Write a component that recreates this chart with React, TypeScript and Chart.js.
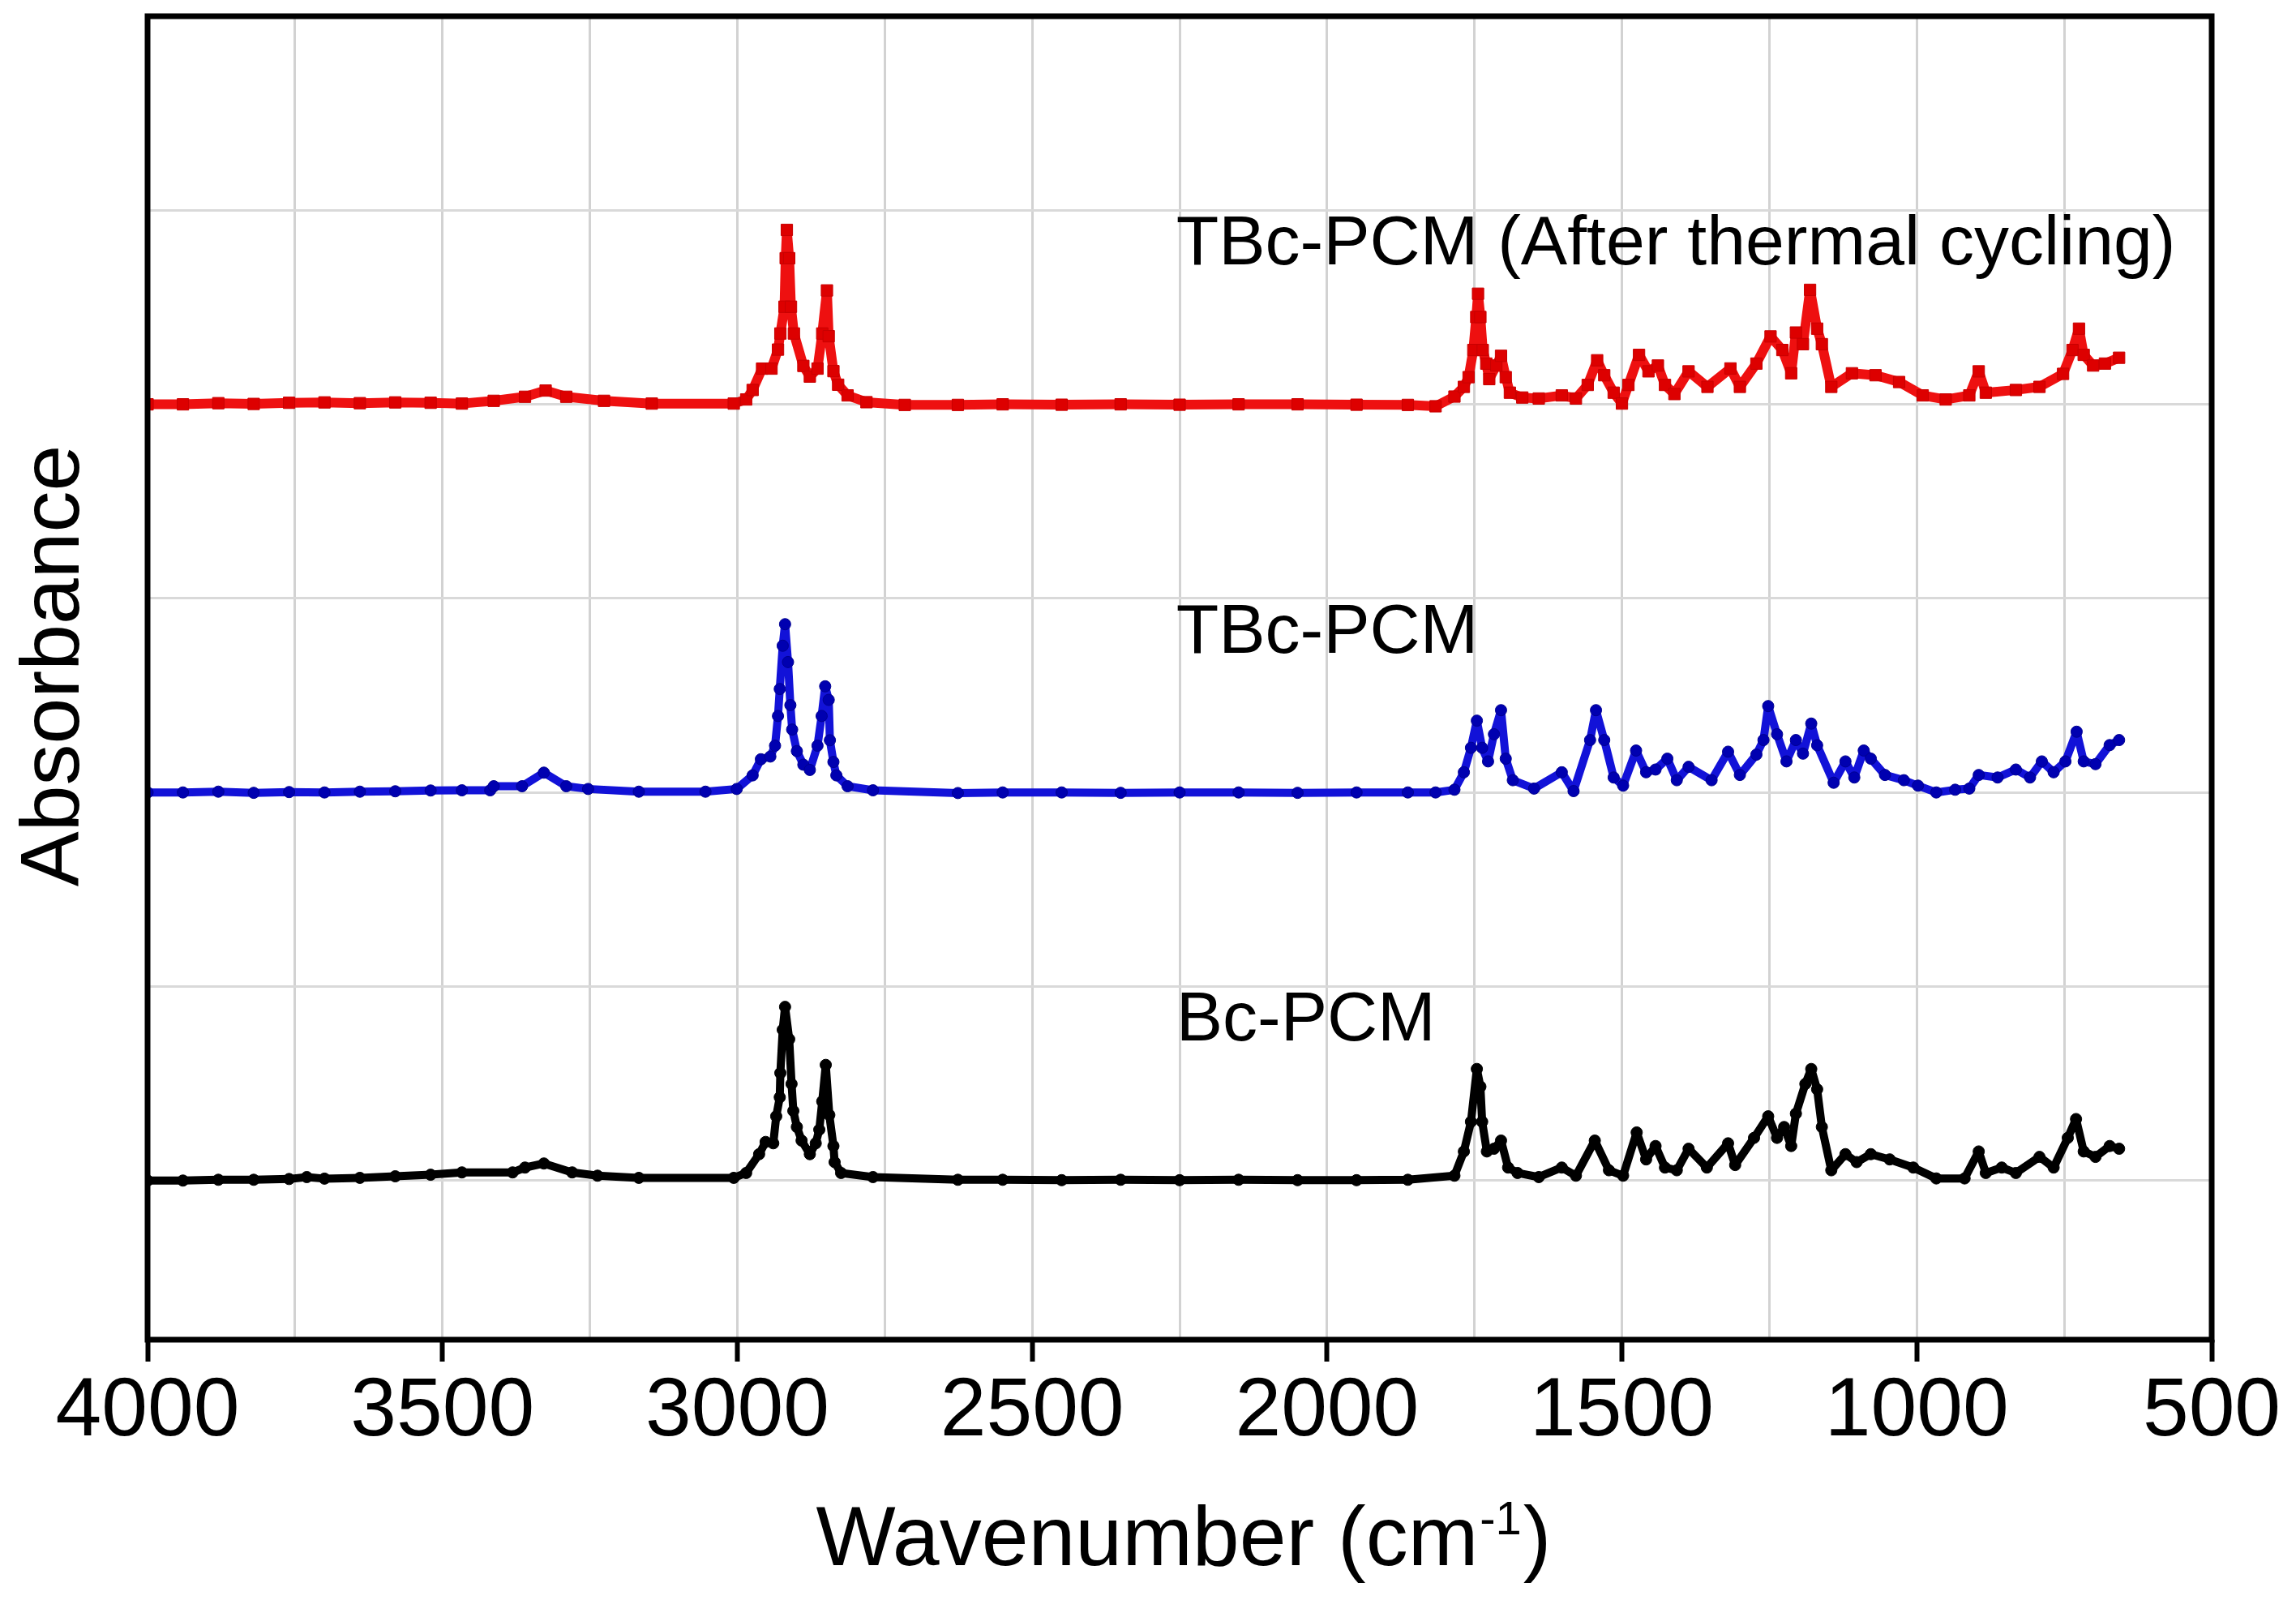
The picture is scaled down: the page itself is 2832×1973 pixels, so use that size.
import React, { useEffect, useRef } from 'react';
import { Chart, registerables } from 'chart.js';

Chart.register(...registerables);

const FONT = '"Liberation Sans", Arial, Helvetica, sans-serif';

// ---- Data (offset spectra) ----
const redWavenumber = [
  4000, 3940, 3880, 3820, 3760, 3700, 3640, 3580, 3520, 3467, 3413, 3360, 3325, 3290, 3226, 3145, 3006,
  2985, 2974, 2958, 2942, 2931, 2927, 2920, 2918, 2916, 2912, 2909, 2904, 2888, 2877, 2864, 2856, 2848,
  2845, 2837, 2829, 2813, 2781, 2716, 2626, 2550, 2450, 2350, 2250, 2150, 2050, 1950, 1863, 1816, 1784,
  1768, 1760, 1752, 1747, 1744, 1740, 1736, 1730, 1725, 1713, 1705, 1697, 1690, 1669, 1641, 1602, 1578,
  1558, 1542, 1530, 1514, 1500, 1489, 1471, 1455, 1439, 1427, 1411, 1387, 1355, 1316, 1300, 1272, 1248,
  1228, 1213, 1205, 1193, 1181, 1169, 1161, 1145, 1110, 1070, 1030, 990, 951, 911, 895, 883, 832, 792,
  752, 736, 725, 717, 701, 681, 657,
];
const redAbsorbance = [
  4.0, 4.0, 4.006, 4.002, 4.008, 4.01, 4.006, 4.01, 4.008, 4.004, 4.018, 4.039, 4.071, 4.039, 4.018, 4.004, 4.004,
  4.025, 4.074, 4.184, 4.184, 4.282, 4.365, 4.503, 4.753, 4.899, 4.753, 4.503, 4.365, 4.198, 4.143, 4.184, 4.365, 4.587,
  4.351, 4.171, 4.101, 4.046, 4.011, 3.997, 3.997, 4.0, 3.998, 4.0, 3.998, 4.0, 4.0, 3.998, 3.997, 3.99, 4.04,
  4.09, 4.14, 4.28, 4.45, 4.57, 4.45, 4.28, 4.21, 4.13, 4.2, 4.25, 4.14, 4.06, 4.035, 4.03, 4.046, 4.03,
  4.1, 4.227, 4.15, 4.06, 4.004, 4.1, 4.255, 4.17, 4.2, 4.1, 4.053, 4.17, 4.09, 4.185, 4.09, 4.21, 4.35,
  4.28, 4.16, 4.37, 4.31, 4.59, 4.39, 4.31, 4.09, 4.16, 4.15, 4.115, 4.046, 4.025, 4.046, 4.17, 4.06, 4.074, 4.09,
  4.157, 4.28, 4.39, 4.255, 4.2, 4.21, 4.24,
];

const blueWavenumber = [
  4000, 3940, 3880, 3820, 3760, 3700, 3640, 3580, 3520, 3467, 3419, 3413, 3365, 3328, 3290, 3253, 3167, 3054,
  3001, 2974, 2960, 2944, 2936, 2931, 2928, 2923, 2919, 2914, 2910, 2907, 2899, 2888, 2877, 2864, 2857, 2851,
  2845, 2843, 2837, 2832, 2813, 2770, 2626, 2550, 2450, 2350, 2250, 2150, 2050, 1950, 1863, 1816, 1784, 1768,
  1756, 1746, 1737, 1727, 1717, 1705, 1697, 1685, 1649, 1602, 1582, 1554, 1544, 1530, 1514, 1498, 1476, 1459,
  1443, 1423, 1407, 1387, 1348, 1320, 1300, 1272, 1260, 1252, 1237, 1221, 1205, 1193, 1179, 1169, 1141, 1121,
  1106, 1090, 1078, 1054, 1022, 998, 967, 935, 911, 895, 863, 832, 808, 788, 768, 748, 729, 717, 697, 673, 657,
];
const blueAbsorbance = [
  2.0, 2.0, 2.004, 1.998, 2.002, 2.0, 2.004, 2.006, 2.01, 2.011, 2.011, 2.032, 2.032, 2.102, 2.032, 2.018, 2.004, 2.004,
  2.018, 2.088, 2.171, 2.185, 2.241, 2.394, 2.533, 2.756, 2.867, 2.672, 2.45, 2.324, 2.213, 2.143, 2.116, 2.241, 2.394, 2.547,
  2.477, 2.269, 2.157, 2.088, 2.032, 2.011, 1.997, 2.0, 2.0, 1.998, 2.0, 2.0, 1.998, 2.0, 2.0, 2.0, 2.014, 2.104,
  2.23, 2.37, 2.23, 2.16, 2.3, 2.424, 2.174, 2.063, 2.02, 2.104, 2.007, 2.27, 2.424, 2.27, 2.077, 2.035, 2.216, 2.104,
  2.118, 2.174, 2.063, 2.132, 2.063, 2.21, 2.09, 2.195, 2.27, 2.445, 2.3, 2.16, 2.27, 2.2, 2.355, 2.243, 2.05, 2.16,
  2.077, 2.216, 2.174, 2.09, 2.063, 2.035, 2.0, 2.014, 2.02, 2.09, 2.077, 2.118, 2.077, 2.16, 2.104, 2.16, 2.313, 2.16, 2.146, 2.244, 2.27,
];

const blackWavenumber = [
  4000, 3940, 3880, 3820, 3760, 3730, 3700, 3640, 3580, 3520, 3467, 3381, 3360, 3328, 3280, 3237, 3167, 3006,
  2985, 2963, 2952, 2939, 2934, 2928, 2927, 2923, 2919, 2912, 2908, 2905, 2899, 2891, 2877, 2867, 2861, 2856,
  2850, 2844, 2837, 2835, 2824, 2770, 2626, 2550, 2450, 2350, 2250, 2150, 2050, 1950, 1863, 1784, 1768, 1756,
  1746, 1740, 1737, 1729, 1717, 1705, 1693, 1677, 1641, 1602, 1578, 1546, 1522, 1498, 1475, 1459, 1443, 1427,
  1407, 1387, 1356, 1320, 1308, 1276, 1252, 1237, 1225, 1213, 1205, 1189, 1179, 1169, 1161, 1145, 1121, 1102,
  1078, 1046, 1006, 967, 919, 895, 883, 856, 832, 792, 768, 744, 730, 717, 697, 673, 657,
];
const blackAbsorbance = [
  0.0, 0.0, 0.004, 0.004, 0.008, 0.018, 0.01, 0.014, 0.022, 0.03, 0.042, 0.042, 0.067, 0.088, 0.042, 0.025, 0.014, 0.014,
  0.039, 0.136, 0.199, 0.192, 0.331, 0.429, 0.554, 0.777, 0.895, 0.728, 0.498, 0.359, 0.276, 0.206, 0.136, 0.192, 0.262, 0.408,
  0.596, 0.338, 0.178, 0.095, 0.039, 0.018, 0.004, 0.004, 0.002, 0.004, 0.002, 0.004, 0.002, 0.002, 0.004, 0.025, 0.15, 0.303,
  0.575, 0.484, 0.303, 0.15, 0.164, 0.206, 0.067, 0.039, 0.018, 0.067, 0.025, 0.206, 0.053, 0.025, 0.248, 0.109, 0.178, 0.067,
  0.053, 0.164, 0.067, 0.192, 0.08, 0.22, 0.331, 0.22, 0.276, 0.178, 0.345, 0.498, 0.575, 0.47, 0.276, 0.053, 0.136, 0.095,
  0.136, 0.109, 0.067, 0.011, 0.011, 0.15, 0.039, 0.067, 0.039, 0.122, 0.067, 0.22, 0.317, 0.15, 0.122, 0.178, 0.164,
];

const seriesLabels = ['TBc-PCM (After thermal cycling)', 'TBc-PCM', 'Bc-PCM'];
const labelWavenumber = 2256;
const labelLevels = [4.72, 2.72, 0.72];

const xMin = 500;
const xMax = 4000;
const xStep = 250;
const xLabelStep = 500;
const yMin = -0.82;
const yMax = 6;

const xTitleMain = 'Wavenumber (cm';
const xTitleSup = '-1';
const xTitleEnd = ')';
const yTitle = 'Absorbance';

const W = 2832;
const H = 1973;

const toPoints = (xs: number[], ys: number[]) => xs.map((x, i) => ({ x, y: ys[i] }));

const decorPlugin = {
  id: 'decor',
  afterDatasetsDraw(chart: any) {
    const { ctx, chartArea: a, scales } = chart;
    ctx.save();
    // frame
    ctx.strokeStyle = '#000';
    ctx.lineWidth = 7;
    ctx.strokeRect(a.left, a.top, a.right - a.left, a.bottom - a.top);

    // series labels
    ctx.fillStyle = '#000';
    ctx.font = `86px ${FONT}`;
    ctx.textAlign = 'left';
    ctx.textBaseline = 'alphabetic';
    seriesLabels.forEach((t, i) => {
      ctx.fillText(t, scales.x.getPixelForValue(labelWavenumber), scales.y.getPixelForValue(labelLevels[i]));
    });

    // x title with superscript
    const mainFont = `104px ${FONT}`;
    const supFont = `58px ${FONT}`;
    ctx.font = mainFont;
    const w1 = ctx.measureText(xTitleMain).width;
    const w3 = ctx.measureText(xTitleEnd).width;
    ctx.font = supFont;
    const w2 = ctx.measureText(xTitleSup).width;
    const total = w1 + w2 + w3 + 4;
    const cx = (a.left + a.right) / 2 + 5;
    const by = a.bottom + 278;
    let x0 = cx - total / 2;
    ctx.font = mainFont;
    ctx.fillText(xTitleMain, x0, by);
    x0 += w1 + 2;
    ctx.font = supFont;
    ctx.fillText(xTitleSup, x0, by - 38);
    x0 += w2 + 2;
    ctx.font = mainFont;
    ctx.fillText(xTitleEnd, x0, by);

    // y title
    ctx.save();
    ctx.translate(a.left - 85, (a.top + a.bottom) / 2 - 15);
    ctx.rotate(-Math.PI / 2);
    ctx.textAlign = 'center';
    ctx.textBaseline = 'alphabetic';
    ctx.font = `102px ${FONT}`;
    ctx.fillText(yTitle, 0, 0);
    ctx.restore();

    ctx.restore();
  },
};

export default function App() {
  const canvasRef = useRef<HTMLCanvasElement | null>(null);

  useEffect(() => {
    const canvas = canvasRef.current;
    if (!canvas) return;
    const common = { showLine: true, tension: 0, borderJoinStyle: 'round', borderCapStyle: 'round', pointBorderWidth: 1 };
    const chart = new Chart(canvas, {
      type: 'scatter',
      data: {
        datasets: [
          {
            ...common,
            label: seriesLabels[0],
            data: toPoints(redWavenumber, redAbsorbance),
            borderColor: '#ee1010',
            borderWidth: 12,
            backgroundColor: '#dd0000',
            pointBackgroundColor: '#dd0000',
            pointBorderColor: '#c80000',
            pointStyle: 'rect',
            pointRadius: 10,
          },
          {
            ...common,
            label: seriesLabels[1],
            data: toPoints(blueWavenumber, blueAbsorbance),
            borderColor: '#1212d8',
            borderWidth: 10,
            backgroundColor: '#0000b0',
            pointBackgroundColor: '#0000b0',
            pointBorderColor: '#000090',
            pointStyle: 'circle',
            pointRadius: 7,
          },
          {
            ...common,
            label: seriesLabels[2],
            data: toPoints(blackWavenumber, blackAbsorbance),
            borderColor: '#000000',
            borderWidth: 10,
            backgroundColor: '#000000',
            pointBackgroundColor: '#000000',
            pointBorderColor: '#000000',
            pointStyle: 'circle',
            pointRadius: 7,
          },
        ],
      },
      options: {
        animation: false,
        responsive: false,
        devicePixelRatio: 1,
        layout: { padding: { top: 20, right: W - 2728, left: 0, bottom: 0 } },
        plugins: {
          legend: { display: false },
          tooltip: { enabled: false },
          title: { display: false },
        },
        scales: {
          x: {
            type: 'linear',
            reverse: true,
            min: xMin,
            max: xMax,
            border: { display: false },
            grid: {
              color: '#d2d2d2',
              lineWidth: 3,
              drawTicks: true,
              tickLength: 27,
              tickWidth: 6,
              tickColor: (ctx: any) =>
                ctx.tick && Math.round(ctx.tick.value) % xLabelStep === 0 ? '#000000' : 'rgba(0,0,0,0)',
            },
            ticks: {
              stepSize: xStep,
              autoSkip: false,
              maxRotation: 0,
              minRotation: 0,
              padding: 2,
              color: '#000',
              font: { family: FONT, size: 102 },
              callback: (v: any) => (Math.round(Number(v)) % xLabelStep === 0 ? String(v) : ''),
            },
            afterFit: (scale: any) => {
              scale.height = H - 1652;
            },
          },
          y: {
            type: 'linear',
            min: yMin,
            max: yMax,
            border: { display: false },
            grid: { color: '#d9d9d9', lineWidth: 3, drawTicks: false },
            ticks: { display: false, stepSize: 1 },
            afterFit: (scale: any) => {
              scale.width = 182;
            },
          },
        },
      },
      plugins: [decorPlugin],
    } as any);
    return () => chart.destroy();
  }, []);

  return (
    <div style={{ position: 'absolute', left: 0, top: 0, width: W, height: H, background: '#fff' }}>
      <canvas ref={canvasRef} width={W} height={H} style={{ width: W, height: H, display: 'block' }} />
    </div>
  );
}
